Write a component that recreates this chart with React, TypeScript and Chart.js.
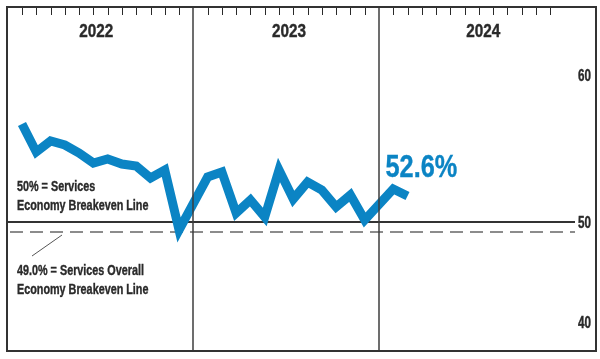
import React, { useEffect, useRef } from "react";
import { Chart, registerables } from "chart.js";

Chart.register(...registerables);

// ---- data ----
const years = ["2022", "2023", "2024"];
const monthsPerYear = 12;
const slotsPerYear = 13; // 12 months + year divider slot
const values2022 = [59.8, 57.0, 58.1, 57.7, 56.9, 55.9, 56.3, 55.8, 55.6, 54.4, 55.2, 49.2];
const values2023 = [54.5, 55.0, 50.9, 52.2, 50.5, 55.2, 52.3, 54.0, 53.2, 51.5, 52.7, 50.2];
const values2024 = [53.3, 52.6];
const seriesByYear = [values2022, values2023, values2024];
const latestLabel = "52.6%";
const breakevenServices = 50;
const breakevenOverall = 49.0;
const yTickLabels = ["40", "50", "60"];
const yTickLabelValues = [40, 50, 64.7]; // where the labels sit in the original graphic
const yearLabelSlots = [5.2, 18.7, 32.3];
const noteServices = ["50% = Services", "Economy Breakeven Line"];
const noteOverall = ["49.0% = Services Overall", "Economy Breakeven Line"];

const BLUE = "#0b84c4";
const DARK = "#2a2a2a";
const FONT = '"Liberation Sans", Arial, sans-serif';

function drawText(
  ctx: CanvasRenderingContext2D,
  text: string,
  x: number,
  y: number,
  size: number,
  sx: number,
  color: string,
  align: "left" | "right" | "center" = "left"
) {
  ctx.save();
  ctx.font = `bold ${size}px ${FONT}`;
  ctx.fillStyle = color;
  ctx.strokeStyle = color;
  ctx.lineWidth = 0.4;
  ctx.textBaseline = "alphabetic";
  ctx.textAlign = "left";
  const w = ctx.measureText(text).width * sx;
  const x0 = align === "left" ? x : align === "right" ? x - w : x - w / 2;
  ctx.translate(x0, y);
  ctx.scale(sx, 1);
  ctx.fillText(text, 0, 0);
  ctx.strokeText(text, 0, 0);
  ctx.restore();
}

const backgroundPlugin = {
  id: "ismBackground",
  beforeDatasetsDraw(chart: any) {
    const { ctx, chartArea: a, scales } = chart;
    const xs = scales.x;
    const ys = scales.y;
    ctx.save();
    // top month ticks
    ctx.strokeStyle = DARK;
    ctx.lineWidth = 1;
    for (let yi = 0; yi < years.length; yi++) {
      for (let m = 0; m < monthsPerYear; m++) {
        const px = Math.round(xs.getPixelForValue(yi * slotsPerYear + m)) + 0.5;
        ctx.beginPath();
        ctx.moveTo(px, a.top);
        ctx.lineTo(px, a.top + 8);
        ctx.stroke();
      }
    }
    // breakeven lines
    const endX = a.right - 21;
    const y50 = Math.round(ys.getPixelForValue(breakevenServices));
    ctx.strokeStyle = "#333";
    ctx.lineWidth = 2;
    ctx.beginPath();
    ctx.moveTo(a.left, y50);
    ctx.lineTo(endX, y50);
    ctx.stroke();
    const y49 = Math.round(ys.getPixelForValue(breakevenOverall));
    ctx.strokeStyle = "#8c8c8c";
    ctx.setLineDash([13, 7]);
    ctx.beginPath();
    ctx.moveTo(a.left + 3, y49);
    ctx.lineTo(endX, y49);
    ctx.stroke();
    ctx.setLineDash([]);
    // leader line
    ctx.strokeStyle = "#555";
    ctx.lineWidth = 1;
    ctx.beginPath();
    ctx.moveTo(a.left + 25, y49 + 24);
    ctx.lineTo(a.left + 55, y49 + 3);
    ctx.stroke();
    ctx.restore();
  },
  afterDatasetsDraw(chart: any) {
    const { ctx, chartArea: a, scales } = chart;
    const xs = scales.x;
    const ys = scales.y;
    ctx.save();
    // year dividers (drawn over the line, slightly translucent)
    ctx.lineWidth = 2;
    ctx.strokeStyle = "rgba(60,60,60,0.75)";
    for (let yi = 1; yi < years.length; yi++) {
      const px = Math.round(xs.getPixelForValue(yi * slotsPerYear - 1));
      ctx.beginPath();
      ctx.moveTo(px, a.top);
      ctx.lineTo(px, a.bottom);
      ctx.stroke();
    }
    // frame
    ctx.strokeStyle = "#333";
    ctx.lineWidth = 2;
    ctx.strokeRect(a.left, a.top, a.right - a.left, a.bottom - a.top);
    ctx.restore();
    // year labels
    years.forEach((yr, i) => {
      drawText(ctx, yr, xs.getPixelForValue(yearLabelSlots[i]), a.top + 30, 18, 0.85, DARK, "center");
    });
    // y labels
    yTickLabels.forEach((t, i) => {
      drawText(ctx, t, a.right - 5, ys.getPixelForValue(yTickLabelValues[i]) + 6, 16, 0.73, DARK, "right");
    });
    // notes
    const y50 = ys.getPixelForValue(breakevenServices);
    drawText(ctx, noteServices[0], a.left + 10, y50 - 31, 15, 0.72, DARK);
    drawText(ctx, noteServices[1], a.left + 10, y50 - 12, 15, 0.72, DARK);
    drawText(ctx, noteOverall[0], a.left + 10, y50 + 53, 15, 0.72, DARK);
    drawText(ctx, noteOverall[1], a.left + 10, y50 + 72, 15, 0.72, DARK);
    // latest value label
    const lastYear = seriesByYear.length - 1;
    const lastVals = seriesByYear[lastYear];
    const lastIdx = lastYear * slotsPerYear + lastVals.length - 1;
    const lx = xs.getPixelForValue(lastIdx);
    const ly = ys.getPixelForValue(lastVals[lastVals.length - 1]);
    drawText(ctx, latestLabel, lx - 22, ly - 19, 32, 0.79, BLUE);
  },
};

export default function App() {
  const ref = useRef<HTMLCanvasElement | null>(null);
  useEffect(() => {
    document.body.style.margin = "0";
    const canvas = ref.current;
    if (!canvas) return;
    const points: { x: number; y: number }[] = [];
    seriesByYear.forEach((vals, yi) => {
      vals.forEach((v, m) => points.push({ x: yi * slotsPerYear + m, y: v }));
    });
    const chart = new Chart(canvas, {
      type: "line",
      data: {
        datasets: [
          {
            data: points,
            borderColor: BLUE,
            borderWidth: 9,
            pointRadius: 0,
            tension: 0,
            borderJoinStyle: "miter",
            borderCapStyle: "butt",
            fill: false,
          },
        ],
      },
      options: {
        animation: false,
        responsive: false,
        maintainAspectRatio: false,
        devicePixelRatio: 1,
        layout: { padding: { left: 7, top: 7, right: 4, bottom: 8 } },
        plugins: { legend: { display: false }, tooltip: { enabled: false } },
        scales: {
          x: { type: "linear", min: -1.05, max: 40.2, display: false },
          y: { type: "linear", min: 37.1, max: 71.5, display: false },
        },
      },
      plugins: [backgroundPlugin],
    });
    return () => chart.destroy();
  }, []);
  return (
    <div style={{ width: 600, height: 359, background: "#fff" }}>
      <canvas ref={ref} width={600} height={359} style={{ display: "block" }} />
    </div>
  );
}
